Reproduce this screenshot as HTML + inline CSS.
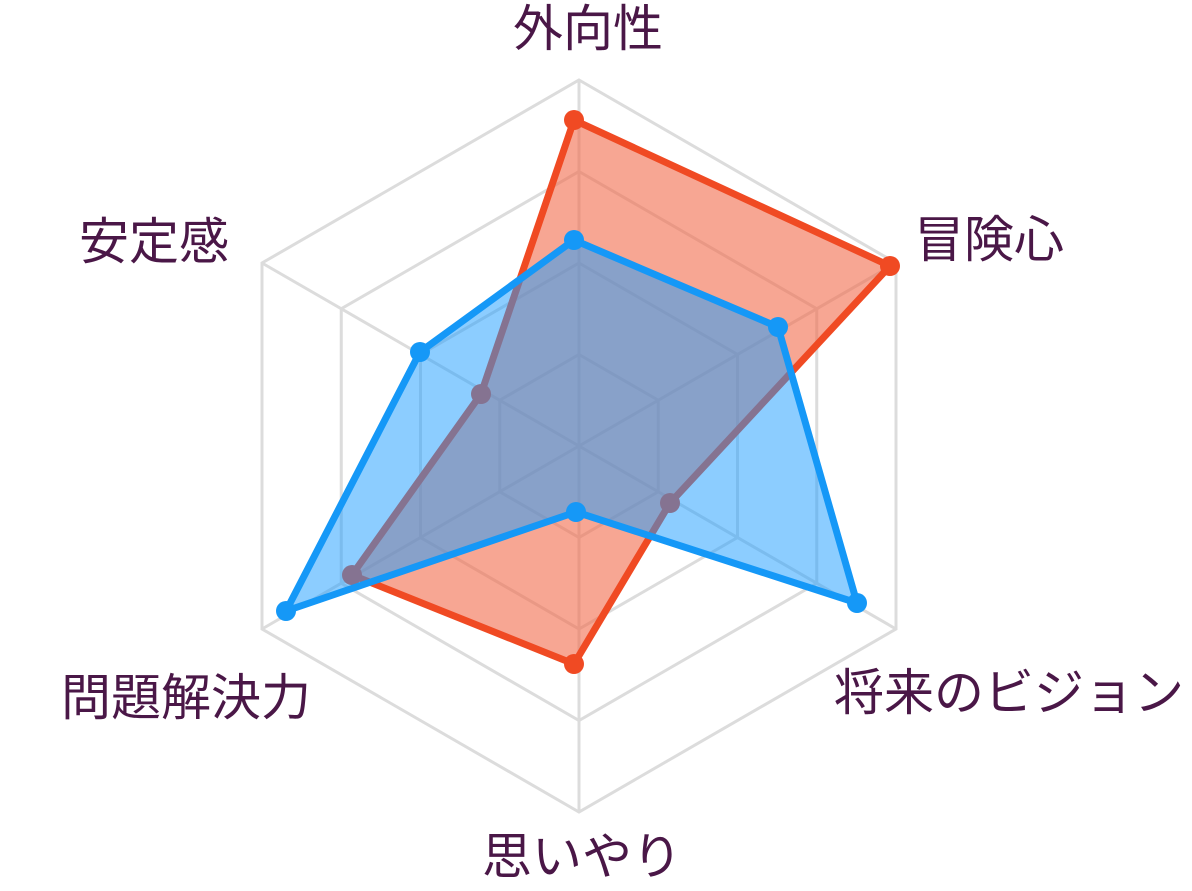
<!DOCTYPE html>
<html><head><meta charset="utf-8"><style>
html,body{margin:0;padding:0;background:#fff;}
svg{display:block;}
text{font-family:"Liberation Sans","Noto Sans CJK JP",sans-serif;fill:#4a1747;font-size:50px;}
</style></head><body>
<svg width="1192" height="891" viewBox="0 0 1192 891">
<g fill="none" stroke="#dcdcdc" stroke-width="3">
<polygon points="579,80 896,263 896,629 579,812 262,629 262,263"/>
<polygon points="579,171.5 816.75,308.75 816.75,583.25 579,720.5 341.25,583.25 341.25,308.75"/>
<polygon points="579,263 737.5,354.5 737.5,537.5 579,629 420.5,537.5 420.5,354.5"/>
<polygon points="579,354.5 658.25,400.25 658.25,491.75 579,537.5 499.75,491.75 499.75,400.25"/>
<line x1="579" y1="446" x2="579" y2="80"/>
<line x1="579" y1="446" x2="896" y2="263"/>
<line x1="579" y1="446" x2="896" y2="629"/>
<line x1="579" y1="446" x2="579" y2="812"/>
<line x1="579" y1="446" x2="262" y2="629"/>
<line x1="579" y1="446" x2="262" y2="263"/>
</g>
<polygon points="574,120 890,266 670,503 574,664 352,575 481,394" fill="#f26a4b" fill-opacity="0.6" stroke="#f04a23" stroke-width="7" stroke-linejoin="round"/>
<g fill="#f04a23"><circle cx="574" cy="120" r="10"/><circle cx="890" cy="266" r="10"/><circle cx="670" cy="503" r="10"/><circle cx="574" cy="664" r="10"/><circle cx="352" cy="575" r="10"/><circle cx="481" cy="394" r="10"/></g>
<polygon points="574,240 778,327 857,603 576,512 286,611 420,352" fill="#1a9bff" fill-opacity="0.5" stroke="#1598f7" stroke-width="7" stroke-linejoin="round"/>
<g fill="#1598f7"><circle cx="574" cy="240" r="10"/><circle cx="778" cy="327" r="10"/><circle cx="857" cy="603" r="10"/><circle cx="576" cy="512" r="10"/><circle cx="286" cy="611" r="10"/><circle cx="420" cy="352" r="10"/></g>
<text x="588" y="46" text-anchor="middle">外向性</text>
<text x="914" y="257">冒険心</text>
<text x="834" y="710">将来のビジョン</text>
<text x="582" y="874" text-anchor="middle">思いやり</text>
<text x="311" y="715" text-anchor="end">問題解決力</text>
<text x="229" y="259" text-anchor="end">安定感</text>
</svg>
</body></html>
